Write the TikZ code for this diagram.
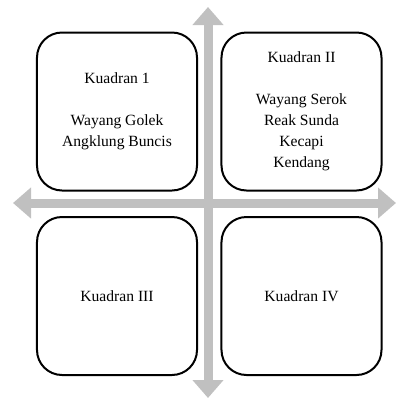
\documentclass[tikz,border=0pt]{standalone}
\usepackage{fontspec}
\setmainfont{Liberation Serif}
\usetikzlibrary{arrows.meta}
\definecolor{axisgray}{RGB}{192,192,192}
\begin{document}
\begin{tikzpicture}[x=1bp,y=-1bp,
  quad/.style={draw=black, line width=2bp, rounded corners=25bp,
    minimum width=160bp, minimum height=158bp, inner sep=0pt,
    align=center, font=\fontsize{15.6bp}{21bp}\selectfont},
  axis/.style={draw=axisgray, fill=axisgray, line width=9bp,
    {Triangle[length=18bp,width=30bp]}-{Triangle[length=18bp,width=30bp]}}]
\useasboundingbox (0,0) rectangle (397,399);
\coordinate (top) at (208,7);
\coordinate (bottom) at (208,398);
\coordinate (left) at (13,203);
\coordinate (right) at (396,203);
\draw[axis] (bottom) -- (top);
\draw[axis] (left) -- (right);
\node[quad] (q1) at (117,111.5) {Kuadran 1\\[21bp]Wayang Golek\\Angklung Buncis};
\node[quad] (q2) at (301.5,111.5) {Kuadran II\\[21bp]Wayang Serok\\Reak Sunda\\Kecapi\\Kendang};
\node[quad] (q3) at (117,296) {Kuadran III};
\node[quad] (q4) at (301.5,296) {Kuadran IV};
\end{tikzpicture}
\end{document}
